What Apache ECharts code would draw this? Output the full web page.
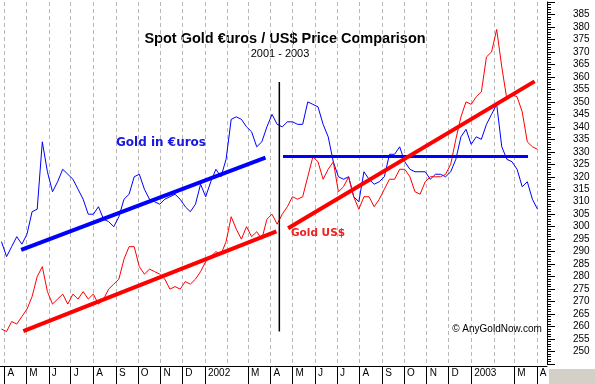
<!DOCTYPE html>
<html><head><meta charset="utf-8">
<script src="https://cdn.jsdelivr.net/npm/echarts@6/dist/echarts.min.js"></script>
<style>html,body{margin:0;padding:0;background:#fff}#c{width:595px;height:384px}</style>
</head><body><div id="c"></div>
<script>
// ---- axis range (calendar days) ----
const startDate = '2001-03-26';
const endDate = '2003-04-15';
// ---- weekly samples ----
const firstSample = '2001-03-28';
const sampleStepDays = 7;
// Gold in Euros (weekly)
const eurValues = [294,288,292,296,293,297,306,307,334,322,
314,318,323,321,319,315,311,305,305,308,
303,302,300,304,311,313,320,321,315,311,
310,309,311,312,313,311,308,306,309,317,
312,318,323,320,327,343,344,343,340,338,
332,334,340,345,341,340,342,342,341,341,
350,349,348,341,336,326,320,319,320,312,
310,322,319,317,318,320,329,329,332,326,
323,322,322,322,319,321,321,320,322,327,
336,339,333,336,335,341,345,349,332,327,
326,323,316,318,311,307];
// Gold in US$ (weekly)
const usdValues = [259,258,262,261,264,267,272,280,284,274,
269,271,273,269,273,271,274,271,273,269,
271,275,277,279,287,292,292,284,281,283,
282,281,279,275,276,275,278,277,279,282,
286,288,290,289,294,304,299,295,300,296,
298,295,303,305,301,305,308,312,311,312,
320,328,326,319,323,326,314,316,320,312,
307,312,312,308,311,315,319,319,323,323,
320,314,313,318,320,320,320,321,325,335,
344,350,349,352,354,368,370,379,364,351,
353,352,346,334,332,331];
// trend lines
const eurTrend = [['2001-04-24', 290.7], ['2002-03-25', 327.7]];
const eurFlat = [['2002-04-18', 328.1], ['2003-03-20', 328.1]];
const usdTrend1 = [['2001-04-27', 258.2], ['2002-04-09', 298.1]];
const usdTrend2 = [['2002-04-25', 299.4], ['2003-03-29', 358.2]];
const divider = [['2002-04-13', 358], ['2002-04-13', 258]];
const monthLetters = ['J','F','M','A','M','J','J','A','S','O','N','D'];
const yMin = 245, yMax = 390, yStep = 5;

function addDays(s, n) {
  const d = new Date(s + 'T00:00:00Z');
  d.setUTCDate(d.getUTCDate() + n);
  return d.toISOString().slice(0, 10);
}
const days = [];
for (let d = startDate; d <= endDate; d = addDays(d, 1)) days.push(d);
const eurData = eurValues.map((v, i) => [addDays(firstSample, i * sampleStepDays), v]);
const usdData = usdValues.map((v, i) => [addDays(firstSample, i * sampleStepDays), v]);

const isMonthStart = (i, v) => v.slice(8) === '01';
const isTickDay = (i, v) => v.slice(8) === '01' && v.slice(5, 7) !== '02';
const fmtLabel = v => {
  const m = parseInt(v.slice(5, 7), 10);
  return m === 1 ? v.slice(0, 4) : monthLetters[m - 1];
};

const chart = echarts.init(document.getElementById('c'), null, {renderer: 'canvas'});
const thin = (data, color, w, z) => ({
  type: 'line', data, symbol: 'none', showSymbol: false, silent: true, z,
  lineStyle: {color, width: w}, itemStyle: {color}
});
chart.setOption({
  animation: false,
  backgroundColor: '#ffffff',
  grid: {left: 0, right: 48, top: 2, bottom: 20, containLabel: false},
  xAxis: {
    type: 'category', data: days, boundaryGap: false, offset: 2,
    axisLine: {show: true, lineStyle: {color: '#000', width: 1}},
    axisTick: {show: true, length: 18, interval: isTickDay, lineStyle: {color: '#000', width: 1}},
    axisLabel: {interval: isTickDay, formatter: fmtLabel, align: 'left', padding: [0, 0, 0, 3],
      margin: 2, fontSize: 10, color: '#000', fontFamily: 'Liberation Sans'},
    splitLine: {show: true, interval: isMonthStart, lineStyle: {color: '#b8b8b8', type: [4, 3], width: 1}}
  },
  yAxis: {
    type: 'value', position: 'right', min: yMin, max: yMax, interval: yStep,
    axisLine: {show: true, lineStyle: {color: '#000', width: 1}},
    axisTick: {show: true, length: 8, lineStyle: {color: '#000'}},
    minorTick: {show: true, splitNumber: 5, length: 4, lineStyle: {color: '#000'}},
    axisLabel: {margin: 26, fontSize: 10, color: '#000', fontFamily: 'Liberation Sans',
      formatter: v => (v <= yMin || v >= yMax) ? '' : String(v)},
    splitLine: {show: false}
  },
  series: [
    thin(eurData, '#0000ff', 1, 2),
    thin(usdData, '#ff0000', 1, 3),
    thin(eurTrend, '#0000ff', 4, 4),
    thin(eurFlat, '#0000ff', 3, 4),
    thin(usdTrend1, '#ff0000', 4, 5),
    thin(usdTrend2, '#ff0000', 4, 5),
    thin(divider, '#000000', 1.5, 6)
  ],
  graphic: [
    {type: 'rect', shape: {x: 549, y: 369, width: 46, height: 15}, style: {fill: '#d4d0c8'}, silent: true},
    {type: 'text', x: 285, y: 39, style: {text: 'Spot Gold €uros / US$ Price Comparison',
      font: 'bold 14.5px "Liberation Sans"', fill: '#000', align: 'center', verticalAlign: 'middle'}},
    {type: 'text', x: 280, y: 53.5, style: {text: '2001 - 2003',
      font: '11px "Liberation Sans"', fill: '#000', align: 'center', verticalAlign: 'middle'}},
    {type: 'text', x: 161, y: 142.5, z: 10, style: {text: 'Gold in €uros',
      font: 'bold 12px "DejaVu Sans"', fill: '#1818e0', align: 'center', verticalAlign: 'middle'}},
    {type: 'text', x: 318, y: 233, z: 10, style: {text: 'Gold US$',
      font: 'bold 10.5px "DejaVu Sans"', fill: '#ee2020', align: 'center', verticalAlign: 'middle'}},
    {type: 'text', x: 497, y: 329, z: 10, style: {text: '© AnyGoldNow.com',
      font: '10px "Liberation Sans"', fill: '#000', align: 'center', verticalAlign: 'middle'}}
  ]
});
</script></body></html>
